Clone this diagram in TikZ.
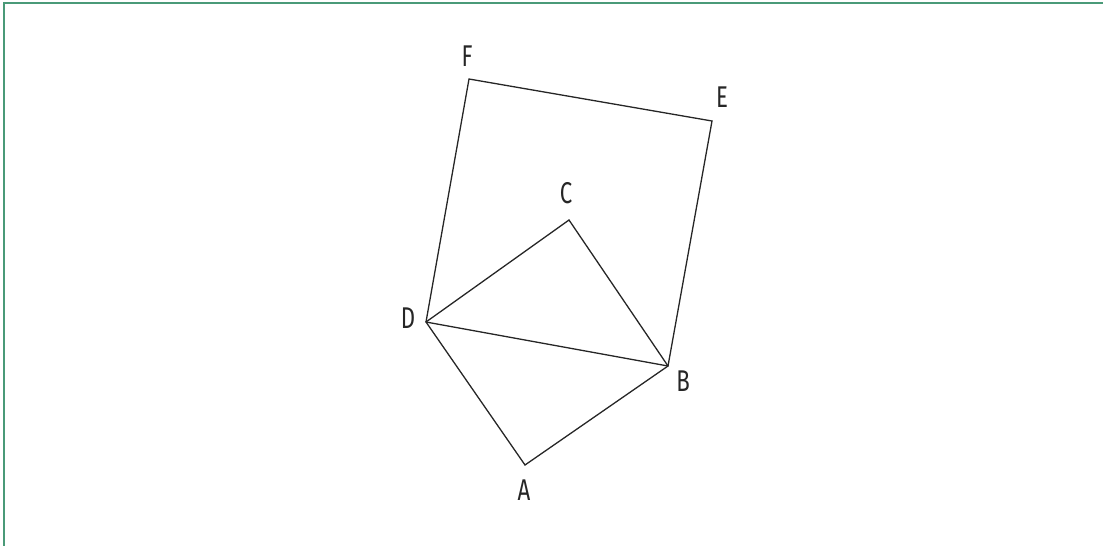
\documentclass[tikz,border=0pt]{standalone}
\usepackage{fontspec}
\setmainfont{Fira Sans}[FakeStretch=0.74]
\definecolor{frame}{HTML}{4A9A78}
\begin{document}
\begin{tikzpicture}[x=1pt,y=-1pt,
  edge/.style={line width=1.3pt, black!85, line join=miter},
  lbl/.style={font=\fontsize{30}{30}\selectfont, text=black!85, inner sep=0pt}]
\useasboundingbox (0,0) rectangle (1103,546);
\draw[frame, line width=2pt] (3.5,546) -- (3.5,2.5) -- (1103,2.5);
\coordinate (F) at (469,79);
\coordinate (E) at (712,121);
\coordinate (C) at (569,220);
\coordinate (D) at (426,322);
\coordinate (B) at (668,366);
\coordinate (A) at (525,465);
\draw[edge] (D) -- (F) -- (E) -- (B);
\draw[edge] (D) -- (C) -- (B) -- (A) -- cycle;
\draw[edge] (D) -- (B);
\node[lbl] (lF) at (467,56) {F};
\node[lbl] (lE) at (722,97) {E};
\node[lbl] (lC) at (566,193) {C};
\node[lbl] (lD) at (408,318) {D};
\node[lbl] (lB) at (683,381) {B};
\node[lbl] (lA) at (524,490) {A};
\end{tikzpicture}
\end{document}
